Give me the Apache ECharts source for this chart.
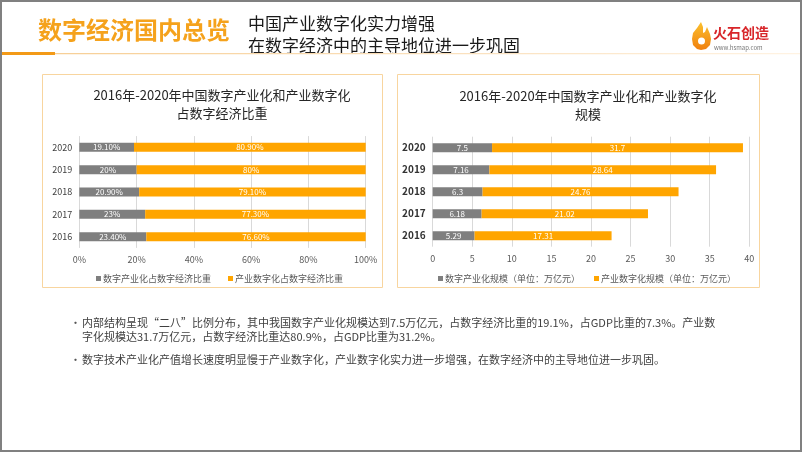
<!DOCTYPE html>
<html><head><meta charset="utf-8">
<script src="https://cdn.jsdelivr.net/npm/echarts@6/dist/echarts.min.js"></script>
<style>html,body{margin:0;padding:0;background:#fff}#c{width:802px;height:452px}</style>
</head><body><div id="c"></div>
<script>
var years = ['2016','2017','2018','2019','2020'];
var shareDigitalIndustry = [23.4, 23, 20.9, 20, 19.1];
var shareIndustryDigital = [76.6, 77.3, 79.1, 80, 80.9];
var scaleDigitalIndustry = [5.29, 6.18, 6.3, 7.16, 7.5];
var scaleIndustryDigital = [17.31, 21.02, 24.76, 28.64, 31.7];
var nameL1 = '数字产业化占数字经济比重', nameL2 = '产业数字化占数字经济比重';
var nameR1 = '数字产业化规模（单位：万亿元）', nameR2 = '产业数字化规模（单位：万亿元）';
var titleL = '2016年-2020年中国数字产业化和产业数字化\n占数字经济比重';
var titleR = '2016年-2020年中国数字产业化和产业数字化\n规模';
var pageTitle = '数字经济国内总览';
var subTitle = ['中国产业数字化实力增强', '在数字经济中的主导地位进一步巩固'];
var bullet1 = ['内部结构呈现“二八”比例分布，其中我国数字产业化规模达到7.5万亿元，占数字经济比重的19.1%，占GDP比重的7.3%。产业数',
               '字化规模达31.7万亿元，占数字经济比重达80.9%，占GDP比重为31.2%。'];
var bullet2 = '数字技术产业化产值增长速度明显慢于产业数字化，产业数字化实力进一步增强，在数字经济中的主导地位进一步巩固。';

var FONT = '"Noto Sans CJK SC","Noto Sans",sans-serif';
var GRAY = '#7f7f7f', ORANGE = '#ffa500';
function pct(v){ return (Math.round(v) === v ? v : v.toFixed(2)) + '%'; }
function lin(stops, vertical){
  return {type:'linear', x:0, y:0, x2:vertical?0:1, y2:vertical?1:0,
          colorStops:stops.map(function(s){return {offset:s[0], color:s[1]};})};
}
function txt(x, y, text, fill, font){
  return {type:'text', x:x, y:y, style:{text:text, fill:fill, font:font, textVerticalAlign:'top', verticalAlign:'top'}};
}

var chart = echarts.init(document.getElementById('c'));
var labelStyle = {show:true, position:'inside', color:'#fff', fontSize:8, fontFamily:FONT};
var option = {
  animation:false,
  textStyle:{fontFamily:FONT},
  title:[
    {text:titleL, left:217, top:81, textAlign:'center', textStyle:{fontSize:13, fontWeight:'normal', color:'#262626', lineHeight:18, fontFamily:FONT}},
    {text:titleR, left:583, top:82, textAlign:'center', textStyle:{fontSize:13, fontWeight:'normal', color:'#262626', lineHeight:18, fontFamily:FONT}}
  ],
  legend:[
    {data:[nameL1,nameL2], left:91, top:269, itemWidth:5, itemHeight:5, itemGap:17, icon:'rect',
     textStyle:{fontSize:9, color:'#595959', fontFamily:FONT, padding:[0,0,0,-3]}},
    {data:[nameR1,nameR2], left:433, top:269, itemWidth:5, itemHeight:5, itemGap:14, icon:'rect',
     textStyle:{fontSize:9, color:'#595959', fontFamily:FONT, padding:[0,0,0,-3]}}
  ],
  grid:[
    {left:79.3, right:436.3, top:136.1, height:111.8},
    {left:432.7, right:52.7, top:136.7, height:110}
  ],
  xAxis:[
    {gridIndex:0, type:'value', min:0, max:100, interval:20,
     axisLabel:{formatter:'{value}%', fontSize:9, color:'#595959', margin:7},
     axisLine:{show:false}, axisTick:{show:false}, splitLine:{lineStyle:{color:'#d9d9d9'}}},
    {gridIndex:1, type:'value', min:0, max:40, interval:5,
     axisLabel:{fontSize:9, color:'#595959', margin:7},
     axisLine:{show:false}, axisTick:{show:false}, splitLine:{lineStyle:{color:'#d9d9d9'}}}
  ],
  yAxis:[
    {gridIndex:0, type:'category', data:years, axisLine:{show:false}, axisTick:{show:false},
     axisLabel:{fontSize:9, color:'#404040', margin:7}},
    {gridIndex:1, type:'category', data:years, axisLine:{show:false}, axisTick:{show:false},
     axisLabel:{fontSize:10, color:'#333', fontWeight:'bold', margin:7}}
  ],
  series:[
    {name:nameL1, type:'bar', stack:'a', xAxisIndex:0, yAxisIndex:0, data:shareDigitalIndustry, barWidth:9,
     itemStyle:{color:GRAY}, label:Object.assign({}, labelStyle, {formatter:function(p){return pct(p.value);}})},
    {name:nameL2, type:'bar', stack:'a', xAxisIndex:0, yAxisIndex:0, data:shareIndustryDigital, barWidth:9,
     itemStyle:{color:ORANGE}, label:Object.assign({}, labelStyle, {formatter:function(p){return pct(p.value);}})},
    {name:nameR1, type:'bar', stack:'b', xAxisIndex:1, yAxisIndex:1, data:scaleDigitalIndustry, barWidth:9,
     itemStyle:{color:GRAY}, label:labelStyle},
    {name:nameR2, type:'bar', stack:'b', xAxisIndex:1, yAxisIndex:1, data:scaleIndustryDigital, barWidth:9,
     itemStyle:{color:ORANGE}, label:labelStyle}
  ],
  graphic:[
    {type:'rect', shape:{x:1, y:1, width:800, height:450}, style:{fill:null, stroke:'#808080', lineWidth:2}, silent:true, z:100},
    txt(38, 18, pageTitle, '#f5a21c', 'bold 24px '+FONT),
    txt(248, 15, subTitle[0], '#1a1a1a', '17px '+FONT),
    txt(248, 37, subTitle[1], '#1a1a1a', '17px '+FONT),
    {type:'rect', shape:{x:55, y:53, width:747, height:1.2},
     style:{fill:lin([[0,'#f7cf96'],[0.6,'#fbe3c2'],[1,'#fff3e3']])}},
    {type:'rect', shape:{x:0, y:52, width:55, height:3}, style:{fill:'#f39a17'}},
    {type:'polygon', shape:{points:[[701,22],[697,28],[693,33],[692,39],[693,45],[697,49],[701,50],[706,49],[710,45],[711,39],[710,34],[707,27],[705,32],[703,33],[703,27]]},
     style:{fill:lin([[0,'#fbc02d'],[1,'#f0800f']], true)}},
    {type:'circle', shape:{cx:701.5, cy:41, r:3.5}, style:{fill:'#fff'}},
    txt(713, 26, '火石创造', '#d8262a', 'bold 14px '+FONT),
    txt(714, 45, 'www.hsmap.com', '#777', '6px '+FONT),
    {type:'rect', shape:{x:42.5, y:74.5, width:340, height:213}, style:{fill:null, stroke:'#f8d59f', lineWidth:1}},
    {type:'rect', shape:{x:397.5, y:74.5, width:362, height:213}, style:{fill:null, stroke:'#f8d59f', lineWidth:1}},
    txt(70, 317, '•', '#555', '11px '+FONT),
    txt(82, 317, bullet1[0], '#404040', '11px '+FONT),
    txt(82, 331, bullet1[1], '#404040', '11px '+FONT),
    txt(70, 354, '•', '#555', '11px '+FONT),
    txt(82, 354, bullet2, '#404040', '11px '+FONT)
  ]
};
chart.setOption(option);
</script></body></html>
